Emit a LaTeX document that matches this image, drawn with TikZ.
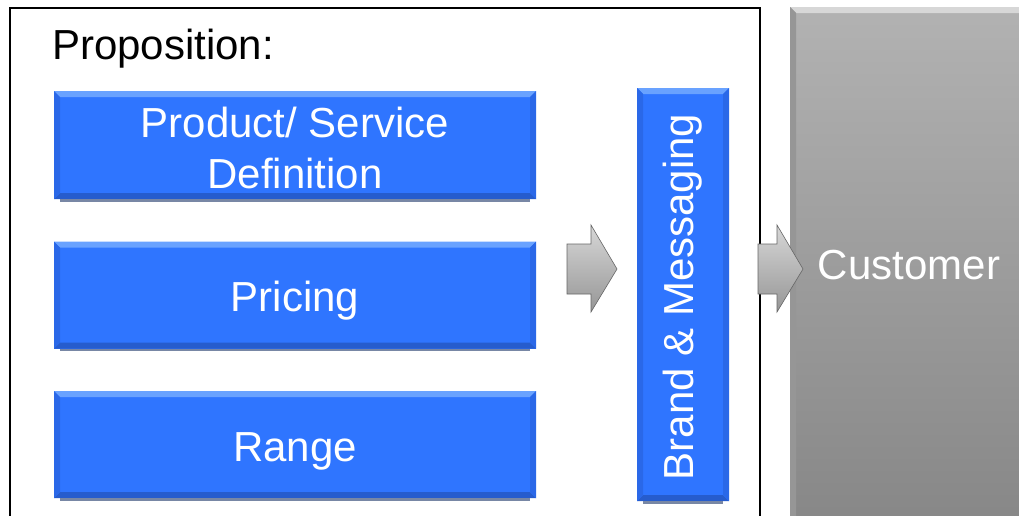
\documentclass[tikz,border=0pt]{standalone}
\usepackage{fontspec}
\setmainfont{Liberation Sans}
\definecolor{bblue}{RGB}{47,117,255}
\definecolor{bluetop}{RGB}{105,162,255}
\definecolor{bluebot}{RGB}{38,92,205}
\definecolor{blueside}{RGB}{42,104,232}
\definecolor{shadowc}{RGB}{120,135,165}
\definecolor{gtop}{RGB}{178,178,178}
\definecolor{gbot}{RGB}{134,134,134}
\definecolor{ghi}{RGB}{215,215,215}
\definecolor{gsd}{RGB}{150,150,150}
\begin{document}
\begin{tikzpicture}[x=1pt,y=-1pt,
  bigfont/.style={font=\fontsize{42}{51}\selectfont},
  bevel/.style n args={3}{path picture={
    \fill[#1] (path picture bounding box.north west) -- (path picture bounding box.north east)
      -- ([shift={(-6pt,-6pt)}]path picture bounding box.north east)
      -- ([shift={(6pt,-6pt)}]path picture bounding box.north west) -- cycle;
    \fill[#2] (path picture bounding box.south west) -- (path picture bounding box.south east)
      -- ([shift={(-6pt,6pt)}]path picture bounding box.south east)
      -- ([shift={(6pt,6pt)}]path picture bounding box.south west) -- cycle;
    \fill[#3] (path picture bounding box.north west) -- ([shift={(6pt,-6pt)}]path picture bounding box.north west)
      -- ([shift={(6pt,6pt)}]path picture bounding box.south west) -- (path picture bounding box.south west) -- cycle;
    \fill[#3] (path picture bounding box.north east) -- ([shift={(-6pt,-6pt)}]path picture bounding box.north east)
      -- ([shift={(-6pt,6pt)}]path picture bounding box.south east) -- (path picture bounding box.south east) -- cycle;
  }},
  bluebox/.style={rectangle, fill=bblue, text=white, bigfont, align=center, inner sep=0pt,
    bevel={bluetop}{bluebot}{blueside}},
  lowtext/.style={text height=33pt, text depth=0pt},
  greybox/.style={rectangle, top color=gtop, bottom color=gbot, text=white, bigfont, inner sep=0pt,
    bevel={ghi}{gsd}{gsd}},
  frame/.style={draw=black, line width=2.5pt},
  blockarrow/.style={top color=ghi, bottom color=gsd, draw=gray!80!black, line width=0.6pt},
  shadowbar/.style={fill=shadowc}
]
\useasboundingbox (0,0) rectangle (1019,515);
\clip (0,0) rectangle (1019,515);
\fill[white] (0,0) rectangle (1019,515);

% outer proposition frame
\draw[frame] (10,8) rectangle (760,540);
\node[bigfont, anchor=base west, inner sep=0pt] (title) at (52,59) {Proposition:};

% customer box
\node[greybox, minimum width=240pt, minimum height=530pt] (cust) at (910,272) {};
\node[bigfont, text=white, inner sep=0pt] (custlabel) at (909,265) {Customer};

% proposition boxes
\node[bluebox, minimum width=482pt, minimum height=108pt] (prod) at (295,145) {};
\node[bigfont, text=white, align=center, inner sep=0pt] (prodlabel) at (295,147.5) {Product/ Service\\Definition};
\node[bluebox, lowtext, minimum width=482pt, minimum height=107pt] (price) at (295,295) {Pricing};
\node[bluebox, lowtext, minimum width=482pt, minimum height=107pt] (range) at (295,444.5) {Range};
\node[bluebox, minimum width=92pt, minimum height=413pt] (brand) at (683,294.5) {};
\node[bigfont, text=white, rotate=90, inner sep=0pt] (brandlabel) at (683,297) {Brand \& Messaging};

\foreach \n in {prod,price,range,brand}{
  \fill[shadowbar] ([xshift=6pt]\n.south west) rectangle ([xshift=-6pt,yshift=-2.5pt]\n.south east);
}

% block arrows
\coordinate (a1) at (567,269);
\coordinate (a2) at (758,269);
\draw[blockarrow] (a1) ++(0,-25) -- ++(24,0) -- ++(0,-19) -- ++(26,44) -- ++(-26,43) -- ++(0,-18) -- ++(-24,0) -- cycle;
\draw[blockarrow] (a2) ++(0,-25) -- ++(19,0) -- ++(0,-19) -- ++(26,44) -- ++(-26,43) -- ++(0,-18) -- ++(-19,0) -- cycle;
\end{tikzpicture}
\end{document}
